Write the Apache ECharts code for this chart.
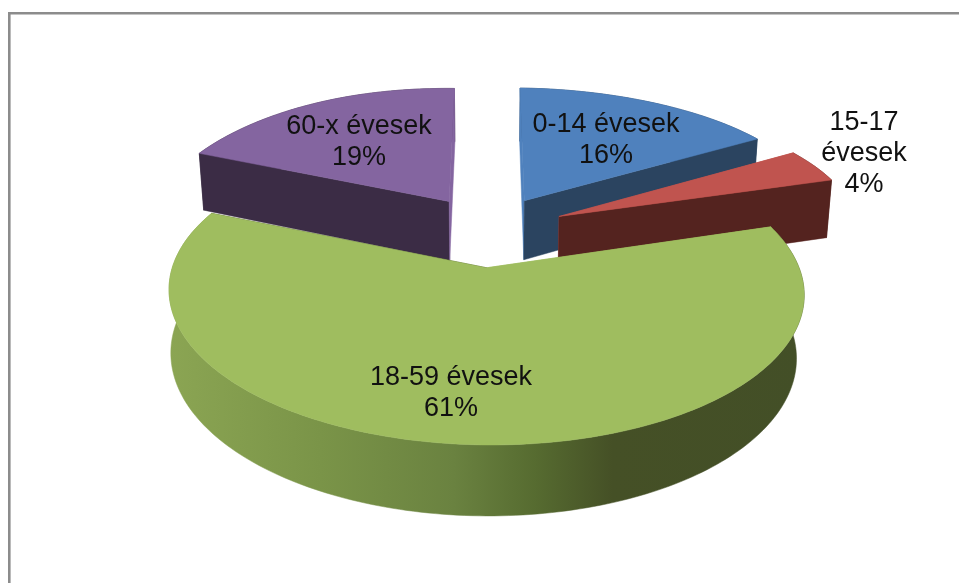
<!DOCTYPE html>
<html>
<head>
<meta charset="utf-8">
<title>Korcsoportok</title>
<script src="https://cdn.jsdelivr.net/npm/echarts@6/dist/echarts.min.js"></script>
<style>
  html, body { margin: 0; padding: 0; background: #fff; }
  #myChart { width: 959px; height: 583px; }
</style>
</head>
<body>
<div id="myChart"></div>
<script>
// data
const categories = ['0-14 évesek', '15-17 évesek', '18-59 évesek', '60-x évesek'];
const shares = [16, 4, 61, 19];

// look of the slices, same order as categories
const topColors = ['#4f81bd', '#c0544f', '#9fbd5f', '#8465a0'];
const sideColors = ['#2b4460', '#54231f', '#455026', '#3b2c45'];
const explode = [0.236, 0.255, 0.236, 0.236];
const nudge = [[2, -4], [1.5, -1.5], [0, 2], [-1, -4]];
const bow = [10, 10, 0, 10];
const bottomDrift = [0, 0, -3, 0];
const drawOrder = [1, 2, 3, 0];
const labelLines = [['0-14 évesek'], ['15-17', 'évesek'], ['18-59 évesek'], ['60-x évesek']];
const labelAt = [[606, 140], [864, 153.5], [451, 393], [359, 142]];

// the fake 3D view: a flat disc seen in perspective, a little rolled
const view = { x0: 489, y0: 232, a: 302, b: 138, k: 0.155, h: 60.5, squeeze: 0.985, roll: 3 };

function project(u, v, bottom, i) {
  const s = 1 / (1 + view.k * v);
  const q = bottom ? view.squeeze : 1;
  const shift = bow[i] * Math.max(v, 0) * u * u + (bottom ? bottomDrift[i] : 0);
  return [
    view.x0 + view.a * u * s * q + shift + nudge[i][0],
    view.y0 - view.b * v * s + view.roll * u + (bottom ? view.h * Math.pow(s, 0.75) : 0) + nudge[i][1]
  ];
}

// angles run clockwise from 12 o'clock like in Excel
const total = shares.reduce((a, b) => a + b, 0);
let acc = 0;
const slices = shares.map((v, i) => {
  const start = acc / total * Math.PI * 2;
  acc += v;
  const end = acc / total * Math.PI * 2;
  const mid = (start + end) / 2;
  return { start, end, du: explode[i] * Math.sin(mid), dv: explode[i] * Math.cos(mid) };
});

function rimPoints(sl, bottom, i) {
  const pts = [];
  const n = Math.max(2, Math.ceil((sl.end - sl.start) / 0.02));
  for (let j = 0; j <= n; j++) {
    const t = sl.start + (sl.end - sl.start) * j / n;
    pts.push(project(sl.du + Math.sin(t), sl.dv + Math.cos(t), bottom, i));
  }
  return pts;
}

function poly(points, fill, z2) {
  return { type: 'polygon', shape: { points }, style: { fill, stroke: fill, lineWidth: 0.5 }, z2 };
}

function renderSlice(params, api) {
  const i = api.value(0);
  const sl = slices[i];
  const base = drawOrder[i] * 10;
  const apexTop = project(sl.du, sl.dv, false, i);
  const apexBottom = project(sl.du, sl.dv, true, i);
  const rimTop = rimPoints(sl, false, i);
  const rimBottom = rimPoints(sl, true, i);
  let wall = sideColors[i];
  if (i === 2) {
    wall = new echarts.graphic.LinearGradient(168, 0, 803, 0, [
      { offset: 0, color: '#8ba553' },
      { offset: 0.24, color: '#7a9448' },
      { offset: 0.45, color: '#6a8240' },
      { offset: 0.58, color: '#566b30' },
      { offset: 0.7, color: '#455026' },
      { offset: 1, color: '#434f27' }
    ], true);
  }
  const children = [
    poly(rimTop.concat(rimBottom.slice().reverse()), wall, base),
    // the two cut faces
    poly([apexTop, rimTop[0], rimBottom[0], apexBottom], i === 3 ? sideColors[i] : topColors[i], base + 1),
    poly([apexTop, rimTop[rimTop.length - 1], rimBottom[rimBottom.length - 1], apexBottom],
      i === 3 ? topColors[i] : sideColors[i], base + 1),
    poly([apexTop].concat(rimTop), topColors[i], base + 2)
  ];
  const lines = labelLines[i].concat([Math.round(shares[i] / total * 100) + '%']);
  children.push({
    type: 'text',
    z2: 100,
    style: {
      x: labelAt[i][0],
      y: labelAt[i][1],
      text: lines.join('\n'),
      align: 'center',
      verticalAlign: 'middle',
      fill: '#111',
      font: '27px "Liberation Sans", Arial, sans-serif',
      lineHeight: 31
    }
  });
  return { type: 'group', children };
}

const myChart = echarts.init(document.getElementById('myChart'));
myChart.setOption({
  animation: false,
  backgroundColor: '#fff',
  graphic: [{
    type: 'polyline',
    silent: true,
    shape: { points: [[9.3, 583], [9.3, 13.3], [959, 13.3]] },
    style: { stroke: '#8c8c8c', lineWidth: 2.6, fill: null }
  }],
  series: [{
    type: 'custom',
    coordinateSystem: 'none',
    silent: true,
    clip: false,
    data: shares.map((v, i) => [i, v]),
    renderItem: renderSlice
  }]
});
</script>
</body>
</html>
